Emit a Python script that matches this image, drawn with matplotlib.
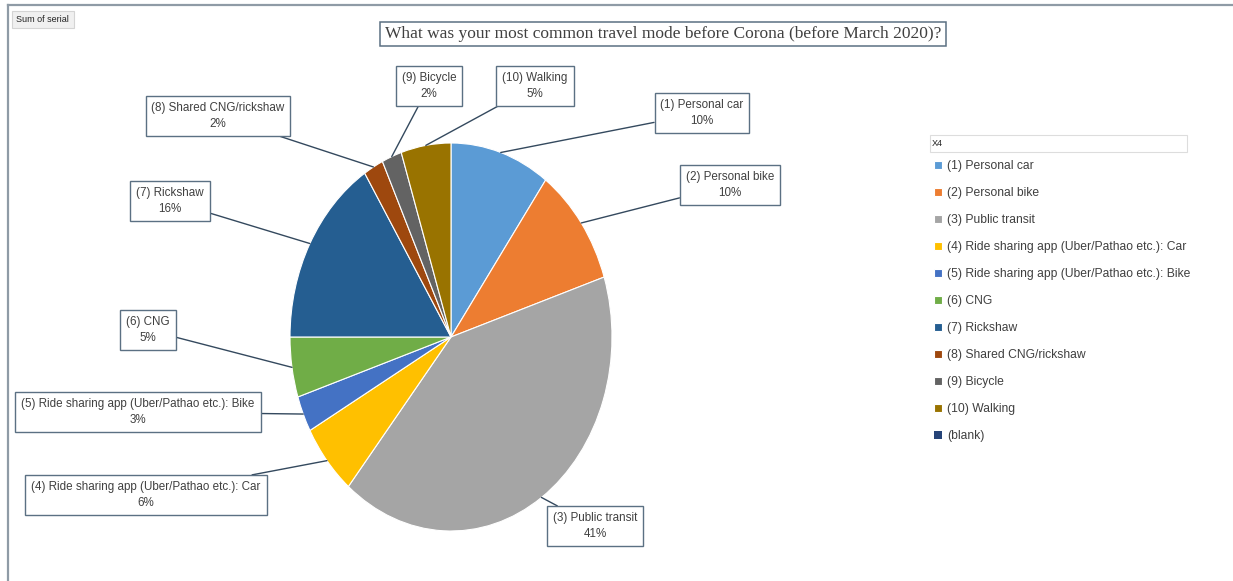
import numpy as np
import matplotlib
matplotlib.use("Agg")
import matplotlib.pyplot as plt
from matplotlib.patches import Patch, Rectangle
from matplotlib.lines import Line2D

W, H = 1233, 581

modes = [
    "(1) Personal car",
    "(2) Personal bike",
    "(3) Public transit",
    "(4) Ride sharing app (Uber/Pathao etc.): Car",
    "(5) Ride sharing app (Uber/Pathao etc.): Bike",
    "(6) CNG",
    "(7) Rickshaw",
    "(8) Shared CNG/rickshaw",
    "(9) Bicycle",
    "(10) Walking",
]
shares = [10, 10, 41, 6, 3, 5, 16, 2, 2, 5]
colors = ["#5B9BD5", "#ED7D31", "#A5A5A5", "#FFC000", "#4472C4",
          "#70AD47", "#255E91", "#9E480E", "#636363", "#997300"]
blank_label = "(blank)"
blank_color = "#264478"

# label box centres, in pixels from the top-left corner
label_pos = [(702, 113), (730, 185), (595, 526), (146, 495), (138, 412),
             (148, 330), (170, 201), (218, 116), (429, 86), (535, 86)]

label_font = ["Liberation Sans", "DejaVu Sans"]
text_col = "#404040"


def frac(px, py):
    return px / W, 1 - py / H


fig = plt.figure(figsize=(W / 100, H / 100), dpi=100)
fig.patch.set_facecolor("white")

# outer chart frame (top and left edges)
fig.add_artist(Line2D([8 / W, 1], [1 - 5 / H, 1 - 5 / H], color="#8f9ba6", lw=1.6))
fig.add_artist(Line2D([8 / W, 8 / W], [0, 1 - 5 / H], color="#8f9ba6", lw=1.6))

# pivot field button
fig.add_artist(Rectangle(frac(12, 28), 62 / W, 17 / H, fc="#f0f0f0", ec="#d4d4d4", lw=0.8))
fig.text(*frac(16, 20), "Sum of serial", fontsize=6.5, family=label_font,
         color="#222222", va="center", ha="left")

# title
fig.text(*frac(663, 34), "What was your most common travel mode before Corona (before March 2020)?",
         fontsize=12.5, family="Liberation Serif", color=text_col, ha="center", va="center",
         bbox=dict(boxstyle="square,pad=0.25", fc="white", ec="#5b7083", lw=1.1))

# pie: centre (451, 337), radii 161 x 194 px
cx, cy, rx, ry = 451, 337, 161, 194
ax = fig.add_axes([(cx - rx) / W, (H - cy - ry) / H, 2 * rx / W, 2 * ry / H])
wedges, _ = ax.pie(shares, colors=colors, startangle=90, counterclock=False, radius=1,
                   wedgeprops=dict(edgecolor="white", linewidth=0.8))
ax.set_aspect("auto")
ax.set_xlim(-1, 1)
ax.set_ylim(-1, 1)
ax.axis("off")

total = sum(shares)
cum = np.cumsum(shares)
for name, v, c, (px, py) in zip(modes, shares, cum, label_pos):
    mid = np.deg2rad(90 - 360 * (c - v / 2) / total)
    ax.annotate(f"{name}\n{v / total * 100:.0f}%",
                xy=(np.cos(mid), np.sin(mid)), xycoords="data",
                xytext=frac(px, py), textcoords="figure fraction",
                ha="center", va="center", fontsize=8.4, family=label_font,
                color=text_col, linespacing=1.4, annotation_clip=False,
                bbox=dict(boxstyle="square,pad=0.5", fc="white", ec="#5b7083", lw=1),
                arrowprops=dict(arrowstyle="-", color="#34495e", lw=1,
                                shrinkA=0, shrinkB=0))

# legend
fig.add_artist(Rectangle(frac(930, 152), 257 / W, 17 / H, fc="white", ec="#dddddd", lw=0.8))
fig.text(*frac(932, 144), "X4", fontsize=6.5, family=label_font, color="#222222",
         va="center", ha="left")
handles = list(wedges) + [Patch(facecolor=blank_color)]
labels = modes + [blank_label]
fig.legend(handles, labels, loc="upper left", bbox_to_anchor=frac(934, 160),
           frameon=False, prop=dict(family=label_font, size=8.7),
           labelcolor=text_col, handlelength=0.65, handleheight=0.65,
           handletextpad=0.45, labelspacing=1.24, borderpad=0, borderaxespad=0)

fig.savefig("out.png", dpi=100)
